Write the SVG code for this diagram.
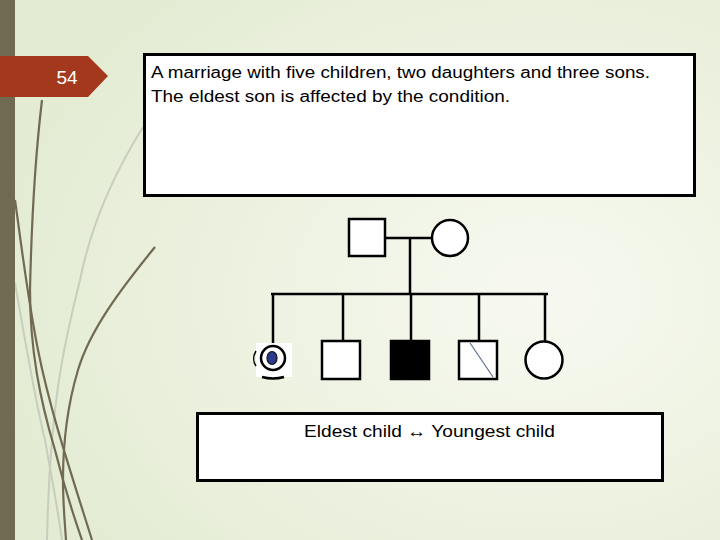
<svg xmlns="http://www.w3.org/2000/svg" width="720" height="540" viewBox="0 0 720 540">
<defs>
<radialGradient id="bg" cx="0.75" cy="0.55" r="0.8">
<stop offset="0" stop-color="#f7f9f0"/>
<stop offset="1" stop-color="#e3ebd2"/>
</radialGradient>
<style>
.box{fill:#fff;stroke:#000;stroke-width:3}
.sym{fill:#fff;stroke:#000;stroke-width:2.5}
.ln{fill:none;stroke:#000;stroke-width:2.5}
.dark{fill:none;stroke:#716a52;stroke-width:2.2}
.light{fill:none;stroke:#c9cdbd;stroke-width:2}
.t{font-family:"Liberation Sans","Noto Sans CJK JP",sans-serif;fill:#000}
</style>
</defs>
<rect width="720" height="540" fill="url(#bg)"/>
<g id="decor">
<path class="light" d="M143,127 C110,180 90,230 80,280 C65,340 50,400 47,540"/>
<path class="light" d="M15,283 C25,340 35,400 45,440 C52,480 58,510 62,540"/>
<path class="dark" d="M42,100 C36,150 32,200 30,290 C30,350 40,400 55,450 C65,490 75,520 82,540"/>
<path class="dark" d="M15,200 C22,250 28,300 38,350 C50,410 70,470 92,540"/>
<path class="dark" d="M155,247 C120,290 90,330 78,370 C66,410 63,450 63,480 C63,505 65,525 66,540"/>
</g>
<rect x="0" y="0" width="15" height="540" fill="#716a52"/>
<g id="slide-number">
<polygon points="0,56 88,56 108,76 88,97 0,97" fill="#a4381c"/>
<text class="t" x="67" y="84" font-size="19" style="fill:#fff" text-anchor="middle">54</text>
</g>
<g id="description">
<rect class="box" x="144.5" y="54.5" width="550" height="141"/>
<text class="t" x="151" y="78" font-size="16" textLength="499" lengthAdjust="spacingAndGlyphs">A marriage with five children, two daughters and three sons.</text>
<text class="t" x="151" y="102" font-size="16" textLength="359" lengthAdjust="spacingAndGlyphs">The eldest son is affected by the condition.</text>
</g>
<g id="connectors">
<line class="ln" x1="386" y1="238" x2="432" y2="238"/>
<line class="ln" x1="410" y1="238" x2="410" y2="294"/>
<line class="ln" x1="271" y1="294" x2="548" y2="294"/>
<line class="ln" x1="273" y1="294" x2="273" y2="344"/>
<line class="ln" x1="343" y1="294" x2="343" y2="341"/>
<line class="ln" x1="411" y1="294" x2="411" y2="341"/>
<line class="ln" x1="479" y1="294" x2="479" y2="341"/>
<line class="ln" x1="545" y1="294" x2="545" y2="341"/>
</g>
<g id="father"><rect class="sym" x="349" y="219" width="36" height="37"/></g>
<g id="mother"><circle class="sym" cx="450" cy="238" r="18"/></g>
<g id="child1-daughter">
<rect x="256" y="343" width="36" height="34" fill="#fff"/>
<path d="M256,351 C253,356 253,362 256,366" fill="none" stroke="#000" stroke-width="1.5"/>
<circle cx="273" cy="358" r="12" fill="#fff" stroke="#000" stroke-width="2.5"/>
<ellipse cx="272" cy="358" rx="5" ry="6.5" fill="#2b3a8c" stroke="#111" stroke-width="1.2"/>
<path d="M262,377 Q273,380 284,377" fill="none" stroke="#000" stroke-width="2.5"/>
</g>
<g id="child2-son"><rect class="sym" x="322" y="341" width="38" height="38"/></g>
<g id="child3-son-affected"><rect x="391" y="341" width="38" height="38" fill="#000" stroke="#000" stroke-width="2.5"/></g>
<g id="child4-son">
<rect class="sym" x="459" y="341" width="38" height="38"/>
<line x1="470" y1="343" x2="493" y2="377" stroke="#5c6f8c" stroke-width="1.2"/>
</g>
<g id="child5-daughter"><circle class="sym" cx="544" cy="360" r="18.5"/></g>
<g id="order-note">
<rect class="box" x="197.5" y="413.5" width="465" height="67"/>
<text class="t" x="304" y="437" font-size="17" textLength="251" lengthAdjust="spacingAndGlyphs">Eldest child ↔ Youngest child</text>
</g>
</svg>
